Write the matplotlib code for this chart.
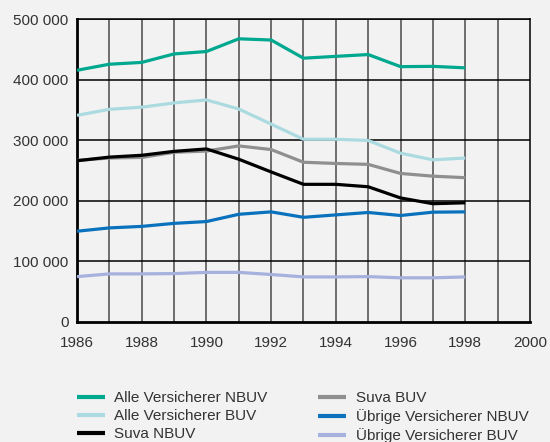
import matplotlib.pyplot as plt

years = list(range(1986, 1999))

alle_nbuv = [416000, 426000, 429000, 443000, 447000, 468000, 466000, 436000, 439000, 442000, 422000, 422500, 420000]
alle_buv = [341500, 351500, 355000, 362000, 367000, 352000, 327000, 302000, 302000, 300000, 279000, 268000, 271000]
suva_nbuv = [266500, 272500, 275500, 282000, 286000, 269000, 248000, 227500, 227500, 223500, 205000, 195500, 197000]
suva_buv = [267000, 271000, 272000, 280500, 282500, 291000, 285000, 264000, 262000, 260500, 245500, 241000, 238500]
uebrige_nbuv = [150000, 155500, 158000, 163000, 166000, 178000, 182000, 173000, 177000, 181000, 176000, 181500, 182000]
uebrige_buv = [75000, 79500, 79500, 80000, 82000, 82000, 78500, 74500, 74500, 75000, 73000, 73000, 74500]

labels = ['Alle Versicherer NBUV', 'Alle Versicherer BUV', 'Suva NBUV',
          'Suva BUV', 'Übrige Versicherer NBUV', 'Übrige Versicherer BUV']
colors = ['#00a88f', '#abdbe0', '#000000', '#8f8f8f', '#0a72bd', '#a6b1dd']
series = [alle_nbuv, alle_buv, suva_nbuv, suva_buv, uebrige_nbuv, uebrige_buv]

plt.rcParams['font.family'] = ['Liberation Sans', 'DejaVu Sans']
txt = '#333333'
bg = '#f2f2f2'

fig = plt.figure(figsize=(5.5, 4.42), dpi=100, facecolor=bg)
ax = fig.add_axes([0.14, 0.2715, 0.8236, 0.6845])
ax.set_facecolor(bg)

# grid: year verticals grey-ish, horizontals black
for yr in range(1987, 2000):
    ax.axvline(yr, color='#4a4a4a', lw=1.1, zorder=1)
for v in range(100000, 500001, 100000):
    ax.axhline(v, color='black', lw=1.1, zorder=1)

# draw order so black sits above grey like in the picture
order = [3, 2, 1, 0, 5, 4]
lines = {}
for i in order:
    ln, = ax.plot(years, series[i], color=colors[i], lw=2.3, label=labels[i],
                  zorder=3, solid_capstyle='butt')
    lines[i] = ln

ax.set_xlim(1986, 2000)
ax.set_ylim(0, 500000)
ax.set_xticks(range(1986, 2001, 2))
ax.set_yticks(range(0, 500001, 100000))
ax.set_yticklabels(['0', '100 000', '200 000', '300 000', '400 000', '500 000'])
ax.tick_params(length=0, labelsize=11, labelcolor=txt)
ax.tick_params(axis='x', pad=10)
ax.tick_params(axis='y', pad=6)

for s in ['left', 'bottom']:
    ax.spines[s].set_linewidth(2)
    ax.spines[s].set_color('black')
for s in ['top', 'right']:
    ax.spines[s].set_linewidth(1.1)
    ax.spines[s].set_color('black')

leg = fig.legend([lines[i] for i in range(6)], labels, ncol=2,
                 loc='upper left', bbox_to_anchor=(0.14, 0.115),
                 frameon=False, fontsize=11, handlelength=1.8, handletextpad=0.65,
                 labelspacing=0.27, columnspacing=3.3, borderpad=0,
                 borderaxespad=0)
for t in leg.get_texts():
    t.set_color(txt)
for h in leg.get_lines():
    h.set_linewidth(3)

fig.savefig('out.png', dpi=100, facecolor=bg)
